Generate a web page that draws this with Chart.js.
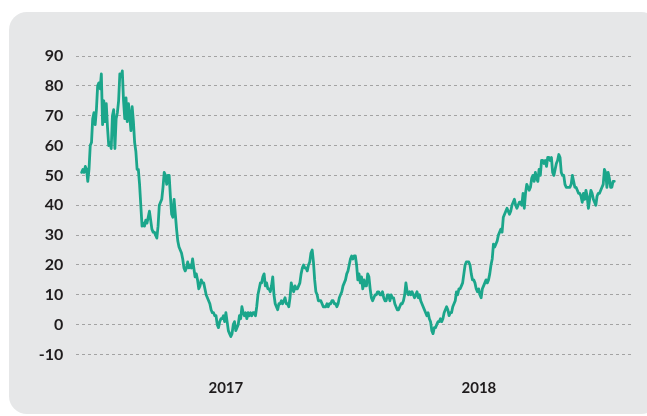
<!DOCTYPE html>
<html>
<head>
<meta charset="utf-8">
<script src="https://cdn.jsdelivr.net/npm/chart.js@4"></script>
<style>
  html, body { margin: 0; padding: 0; background: #fff; width: 647px; height: 416px; overflow: hidden; }
  #panel { position: absolute; left: 9px; top: 12px; width: 650px; height: 402px; background: #e6e7e8; border-radius: 18px; }
  #wrap { position: absolute; left: 0; top: 0; width: 647px; height: 416px; }
</style>
</head>
<body>
<div id="panel"></div>
<div id="wrap"><canvas id="myChart" width="647" height="416"></canvas></div>
<script>
// series runs from mid 2016 to mid 2018, evenly spaced observations
const startYear = 2016.43;
const endYear = 2018.535;
const yearTicks = [2017, 2018];
const yTicks = [-10, 0, 10, 20, 30, 40, 50, 60, 70, 80, 90];

const values = [
  51,52,51,53,52,48,52,60,61,69,71,67,72,80,81,79,84,67,75,68,74,66,60,61,59,70,72,59,69,71,
  75,84,83,85,75,69,76,68,74,70,65,73,68,61,58,52,52,47,40,33,34,33,35,34,36,38,35,32,31,31,
  30,29,33,40,41,42,46,51,50,47,50,50,43,37,36,42,37,32,28,26,25,24,22,19,18,19,21,19,20,19,
  22,19,16,17,15,12,13,15,14,14,12,10,9,8,7,5,4,4,3,3,0,-1,1,2,2,3,1,4,1,-2,
  -3,-4,-3,0,1,-2,-1,0,3,2,6,4,3,4,2,4,3,4,3,4,4,3,6,10,12,14,14,16,17,13,
  14,12,12,11,13,16,10,7,6,5,7,7,8,7,8,9,7,7,6,9,14,12,11,13,12,12,13,14,17,19,
  20,19,19,18,20,21,24,25,21,15,11,10,8,8,8,7,6,6,6,7,6,7,7,8,8,7,7,6,7,9,
  10,11,13,14,15,17,18,20,22,23,22,23,23,20,15,17,14,16,12,15,13,13,17,16,12,9,8,9,10,10,
  11,11,10,10,11,9,8,8,10,10,8,10,9,9,7,6,5,5,6,7,7,8,10,14,11,10,11,10,11,10,
  9,10,11,9,10,8,7,6,5,4,3,4,2,1,-2,-3,-1,-1,0,1,1,2,1,2,4,5,6,5,3,4,
  4,6,7,8,11,10,12,12,13,14,17,20,21,21,21,20,17,15,15,14,12,11,12,10,9,12,13,14,15,14,
  15,17,20,22,27,26,27,28,30,31,32,31,36,37,38,39,38,37,38,40,41,42,40,39,40,41,41,40,44,39,
  44,47,46,45,46,49,50,48,51,49,48,52,50,55,55,54,55,53,56,56,55,56,51,50,52,54,55,57,56,51,
  50,50,47,46,46,46,46,47,50,48,46,46,45,44,44,43,41,44,42,45,43,39,42,45,44,42,41,40,43,44,
  44,45,46,47,52,51,46,51,49,46,46,48,48
];

function renderChart() {
  const ctx = document.getElementById("myChart");
  const points = [];
  for (let i = 0; i < values.length; i++) {
    points.push({ x: startYear + (endYear - startYear) * i / (values.length - 1), y: values[i] });
  }

  new Chart(ctx, {
    type: "line",
    data: {
      datasets: [
        {
          data: points,
          borderColor: "#1ba68b",
          borderWidth: 2.8,
          borderJoinStyle: "round",
          borderCapStyle: "round",
          pointRadius: 0,
          tension: 0,
        },
      ],
    },
    options: {
      responsive: false,
      animation: false,
      devicePixelRatio: 1,
      layout: { padding: { top: 56, right: 16, left: 0, bottom: 0 } },
      plugins: { legend: { display: false }, tooltip: { enabled: false } },
      scales: {
        x: {
          type: "linear",
          min: 2016.409,
          max: 2018.601,
          grid: { display: false },
          border: { display: false },
          afterBuildTicks: (axis) => { axis.ticks = yearTicks.map((v) => ({ value: v })); },
          afterFit: (axis) => { axis.height = 61.5; },
          ticks: {
            padding: 17,
            maxRotation: 0,
            color: "#1f1c1d",
            font: { family: "Lato", size: 15, weight: "bold" },
            callback: (v) => String(v),
          },
        },
        y: {
          min: -10,
          max: 90,
          grid: { color: "#a3a3a3", lineWidth: 1, drawTicks: false },
          border: { display: false, dash: [3, 3] },
          afterBuildTicks: (axis) => { axis.ticks = yTicks.map((v) => ({ value: v })); },
          afterFit: (axis) => { axis.width = 76.3; },
          ticks: {
            padding: 13,
            color: "#1f1c1d",
            font: { family: "Lato", size: 16, weight: "bold" },
            callback: (v) => String(v),
          },
        },
      },
    },
  });
}

renderChart();
</script>
</body>
</html>
